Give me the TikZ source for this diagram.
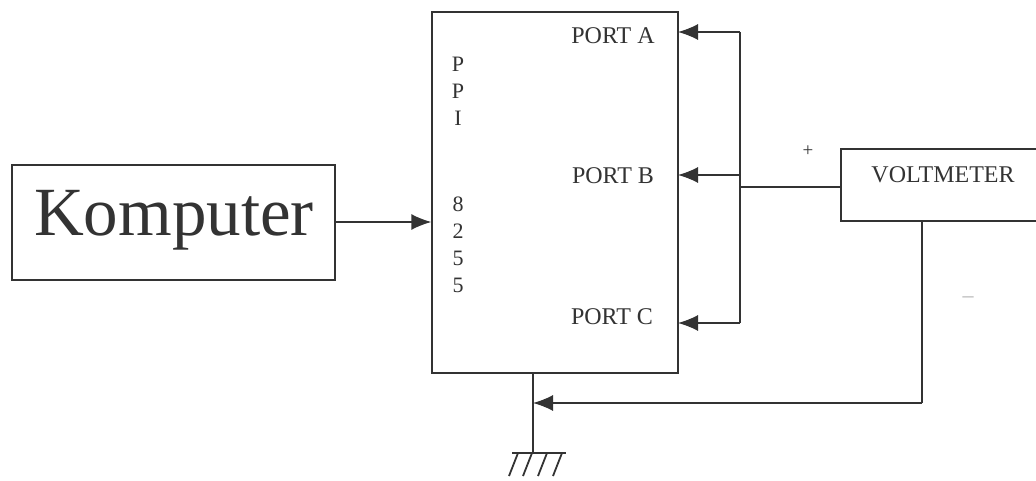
\documentclass[tikz,border=0pt]{standalone}
\usepackage{fontspec}
\setmainfont{Liberation Serif}
\usetikzlibrary{arrows.meta}
\definecolor{ink}{HTML}{333333}
\tikzset{
  wire/.style={draw=ink, line width=1.4pt},
  arr/.style={wire, -{Latex[length=20pt,width=16pt]}},
  box/.style={draw=ink, line width=1.4pt, inner sep=0pt},
  lbl/.style={text=ink, font=\fontsize{24}{24}\selectfont, inner sep=0pt},
  chip/.style={text=ink, font=\fontsize{22}{22}\selectfont, inner sep=0pt},
}
\begin{document}
\begin{tikzpicture}[x=1pt,y=-1pt]
\useasboundingbox[fill=white] (0,0) rectangle (1036,481);
% boxes
\node[box, minimum width=323pt, minimum height=115pt] (komp) at (173.5,222.5) {};
\node[text=ink, font=\fontsize{69}{69}\selectfont, inner sep=0pt] (kt) at (174,220) {Komputer};
\node[box, minimum width=246pt, minimum height=361pt] (ppi) at (555,192.5) {};
\node[inner sep=0pt, minimum width=200pt, minimum height=72pt] (volt) at (941,185) {};
\draw[wire] (1040,149) -- (841,149) -- (841,221) -- (1040,221);
\node[lbl] (vt) at (943,175) {VOLTMETER};
% chip letters
\node[chip] (c1) at (458,64) {P};
\node[chip] (c2) at (458,91) {P};
\node[chip] (c3) at (458,118) {I};
\node[chip] (c4) at (458,204) {8};
\node[chip] (c5) at (458,231) {2};
\node[chip] (c6) at (458,258) {5};
\node[chip] (c7) at (458,285) {5};
% port labels
\node[lbl] (pa) at (613,36) {PORT A};
\node[lbl] (pb) at (613,176) {PORT B};
\node[lbl] (pc) at (612,317) {PORT C};
% bus
\coordinate (ba) at (740,32);
\coordinate (bb) at (740,175);
\coordinate (bc) at (740,323);
\coordinate (bv) at (740,187);
\coordinate (ta) at (678,32);
\coordinate (tb) at (678,175);
\coordinate (tc) at (678,323);
\draw[wire] (ba) -- (bc);
\draw[arr] (ba) -- (ta);
\draw[arr] (bb) -- (tb);
\draw[arr] (bc) -- (tc);
\draw[wire] (bv) -- (841,187);
% computer to PPI
\draw[arr] (komp.east |- 0,222) -- (ppi.west |- 0,222);
% voltmeter minus to ground
\coordinate (vm) at (922,221);
\coordinate (vc) at (922,403);
\coordinate (gt) at (533,403);
\coordinate (g0) at (533,373);
\coordinate (g1) at (533,453);
\draw[wire] (vm) -- (vc);
\draw[arr] (vc) -- (gt);
\draw[wire] (g0) -- (g1);
\draw[wire, line width=1.8pt] (512,453) -- (566,453);
\foreach \x in {518,532,547,562} \draw[wire, line width=1.8pt] (\x,453) -- (\x-9,476);
% polarity marks
\node[text=ink, font=\fontsize{19}{19}\selectfont, inner sep=0pt] (plus) at (808,151) {+};
\node[text=gray!60, font=\fontsize{22}{22}\selectfont, inner sep=0pt] (minus) at (968,300) {–};
\end{tikzpicture}
\end{document}
